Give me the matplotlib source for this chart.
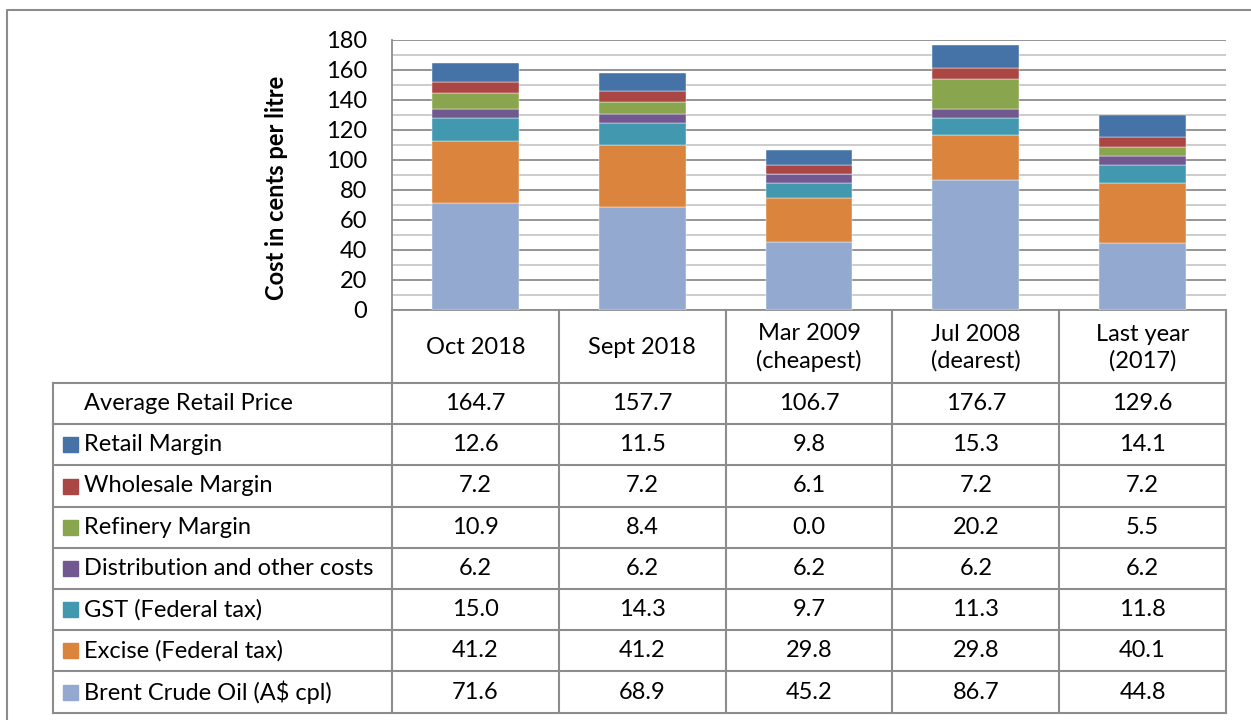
import matplotlib
matplotlib.use("Agg")
import matplotlib.pyplot as plt
import numpy as np

plt.rcParams['font.family'] = ['Lato', 'DejaVu Sans']

# ---- data ----
categories = ["Oct 2018", "Sept 2018", "Mar 2009\n(cheapest)", "Jul 2008\n(dearest)", "Last year\n(2017)"]
avg_retail = [164.7, 157.7, 106.7, 176.7, 129.6]

# stacked from the bottom up
series_names = ["Brent Crude Oil (A$ cpl)", "Excise (Federal tax)", "GST (Federal tax)",
                "Distribution and other costs", "Refinery Margin", "Wholesale Margin", "Retail Margin"]
brent = [71.6, 68.9, 45.2, 86.7, 44.8]
excise = [41.2, 41.2, 29.8, 29.8, 40.1]
gst = [15.0, 14.3, 9.7, 11.3, 11.8]
distribution = [6.2, 6.2, 6.2, 6.2, 6.2]
refinery = [10.9, 8.4, 0.0, 20.2, 5.5]
wholesale = [7.2, 7.2, 6.1, 7.2, 7.2]
retail = [12.6, 11.5, 9.8, 15.3, 14.1]
series_vals = [brent, excise, gst, distribution, refinery, wholesale, retail]
series_colors = ["#93A9CF", "#DB843D", "#4198AF", "#71588F", "#89A54E", "#AA4643", "#4572A7"]

yticks = list(range(0, 181, 20))

W, H = 1251, 720
FS = 17
GRID = "#8C8C8C"

fig = plt.figure(figsize=(W / 100, H / 100), dpi=100)

# pixel layout
px_l, px_r, px_t, px_b = 392, 1226, 40, 310
ax = fig.add_axes([px_l / W, 1 - px_b / H, (px_r - px_l) / W, (px_b - px_t) / H])

x = np.arange(len(categories))
bottom = np.zeros(len(categories))
for vals, col in zip(series_vals, series_colors):
    ax.bar(x, vals, width=0.52, bottom=bottom, color=col, edgecolor="white", linewidth=0.3, zorder=3)
    bottom += np.array(vals)

ax.set_xlim(-0.5, len(categories) - 0.5)
ax.set_ylim(0, 180)
ax.set_yticks(yticks)
ax.set_yticklabels([str(t) for t in yticks], fontsize=FS)
ax.set_yticks(range(10, 180, 20), minor=True)
ax.tick_params(axis="y", length=0, pad=18, which="both")
ax.set_xticks([])
ax.grid(axis="y", which="major", color="#8C8C8C", linewidth=1.3, zorder=0)
ax.grid(axis="y", which="minor", color="#C8C8C8", linewidth=1.3, zorder=0)
for s in ["top", "right"]:
    ax.spines[s].set_visible(False)
ax.spines["left"].set_color(GRID)
ax.spines["bottom"].set_color(GRID)
ax.spines["left"].set_linewidth(1.3)
ax.spines["bottom"].set_linewidth(1.3)

fig.text(276 / W, 1 - 188 / H, "Cost in cents per litre", rotation=90, fontsize=FS,
         fontweight="bold", ha="center", va="center")

# ---- data table drawn in pixel space ----
tab = fig.add_axes([0, 0, 1, 1])
tab.set_xlim(0, W)
tab.set_ylim(H, 0)
tab.axis("off")

# outer chart border
tab.plot([7, 7, W], [H, 10, 10], color=GRID, linewidth=1.5)

col_edges = np.linspace(px_l, px_r, len(categories) + 1)
row_top = 383
row_h = 41.2
n_rows = 1 + len(series_names)
row_edges = [row_top + i * row_h for i in range(n_rows + 1)]
tab_left = 53

for cx in col_edges:
    tab.plot([cx, cx], [px_b, row_edges[-1]], color=GRID, linewidth=1.5)
tab.plot([tab_left, tab_left], [row_top, row_edges[-1]], color=GRID, linewidth=1.5)
for ry in row_edges:
    tab.plot([tab_left, px_r], [ry, ry], color=GRID, linewidth=1.5)

# header row
centers = (col_edges[:-1] + col_edges[1:]) / 2
for cx, lab in zip(centers, categories):
    tab.text(cx, (px_b + row_top) / 2 + 1, lab, ha="center", va="center", fontsize=FS, linespacing=1.3)

# body rows: average price first, then series from top of stack down
row_labels = ["Average Retail Price"] + series_names[::-1]
row_values = [avg_retail] + series_vals[::-1]
row_colors = [None] + series_colors[::-1]
for i, (lab, vals, col) in enumerate(zip(row_labels, row_values, row_colors)):
    yc = row_edges[i] + row_h / 2
    if col is not None:
        tab.add_patch(plt.Rectangle((63, yc - 7.5), 15, 15, color=col))
    tab.text(84, yc, lab, ha="left", va="center", fontsize=FS)
    for cx, v in zip(centers, vals):
        tab.text(cx, yc, f"{v:.1f}", ha="center", va="center", fontsize=FS)

fig.savefig("out.png", dpi=100)
